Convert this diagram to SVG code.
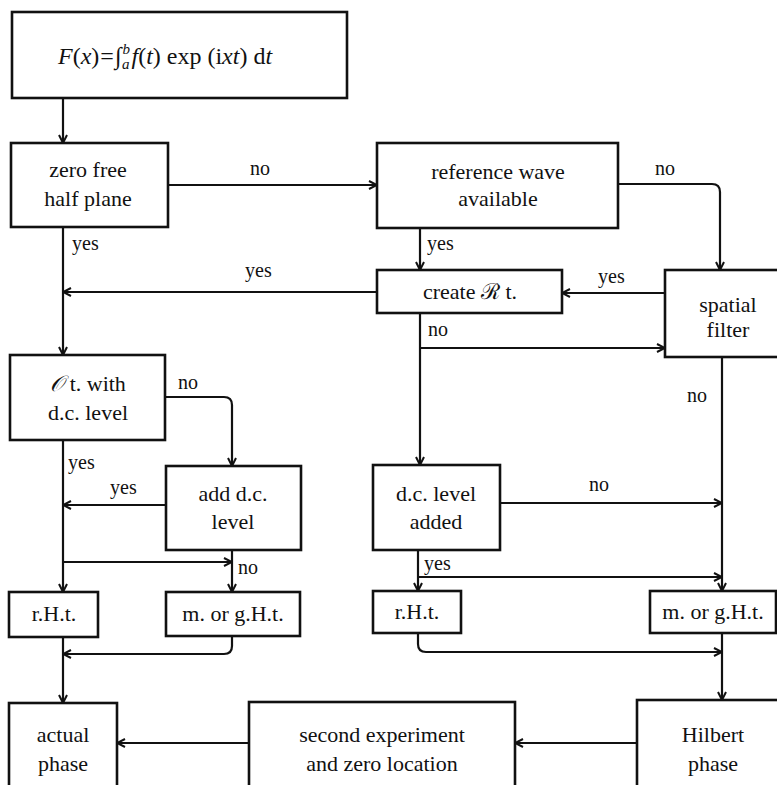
<svg xmlns="http://www.w3.org/2000/svg" width="777" height="785" viewBox="0 0 777 785" font-family="'Liberation Serif', 'Times New Roman', 'DejaVu Serif', serif">
<defs>
<marker id="arr" viewBox="0 0 10 10" refX="9" refY="5" markerWidth="10" markerHeight="10" markerUnits="userSpaceOnUse" orient="auto">
<path d="M1,1 L9,5 L1,9" fill="none" stroke="#111" stroke-width="2"/>
</marker>
<style>
.box{fill:#fff;stroke:#111;stroke-width:2.6}
.c{fill:none;stroke:#111;stroke-width:2.2}
.a{marker-end:url(#arr)}
.t{font-size:22px;text-anchor:middle;fill:#111}
.l{font-size:20px;fill:#111}
.i{font-style:italic}
</style>
</defs>
<rect width="777" height="785" fill="#fff"/>
<g id="connectors">
<path class="c a" d="M63,98 V143"/>
<path class="c a" d="M168,185 H377"/>
<path class="c a" d="M618,184 H712 Q720,184 720,192 V270"/>
<path class="c a" d="M420,228 V270"/>
<path class="c a" d="M665,293 H562"/>
<path class="c a" d="M377,292 H63"/>
<path class="c a" d="M63,227 V355"/>
<path class="c a" d="M420,313 V465"/>
<path class="c a" d="M420,348 H665"/>
<path class="c a" d="M722,357 V591"/>
<path class="c a" d="M165,397 H224 Q232,397 232,405 V466"/>
<path class="c a" d="M166,505 H63"/>
<path class="c a" d="M63,440 V592"/>
<path class="c a" d="M63,562 H232"/>
<path class="c a" d="M232,550 V592"/>
<path class="c a" d="M63,637 V703"/>
<path class="c a" d="M232,636 V646 Q232,654 224,654 H63"/>
<path class="c a" d="M249,743 H117"/>
<path class="c a" d="M637,743 H515"/>
<path class="c a" d="M500,503 H722"/>
<path class="c a" d="M418,550 V591"/>
<path class="c a" d="M418,577 H722"/>
<path class="c a" d="M418,633 V644 Q418,652 426,652 H722"/>
<path class="c a" d="M722,633 V700"/>
</g>
<g id="labels">
<text class="l" x="250" y="175">no</text>
<text class="l" x="655" y="175">no</text>
<text class="l" x="72" y="250">yes</text>
<text class="l" x="427" y="250">yes</text>
<text class="l" x="245" y="277">yes</text>
<text class="l" x="598" y="283">yes</text>
<text class="l" x="428" y="336">no</text>
<text class="l" x="687" y="402">no</text>
<text class="l" x="178" y="389">no</text>
<text class="l" x="68" y="469">yes</text>
<text class="l" x="110" y="494">yes</text>
<text class="l" x="589" y="491">no</text>
<text class="l" x="238" y="574">no</text>
<text class="l" x="424" y="570">yes</text>
</g>
<g id="n-eq">
<rect class="box" x="12" y="12" width="335" height="86"/>
<text x="58" y="64" font-size="24" fill="#111"><tspan class="i">F</tspan>(<tspan class="i">x</tspan>)<tspan dx="1">=</tspan><tspan dx="1">∫</tspan><tspan class="i" font-size="15" dx="1" dy="-10">b</tspan><tspan class="i" font-size="15" dx="-8" dy="15">a</tspan><tspan class="i" dx="2" dy="-5">f</tspan>(<tspan class="i">t</tspan>) exp (i<tspan class="i">xt</tspan>) d<tspan class="i">t</tspan></text>
</g>
<g id="n-zero">
<rect class="box" x="11" y="143" width="157" height="84"/>
<text class="t" x="88" y="177">zero free</text>
<text class="t" x="88" y="206">half plane</text>
</g>
<g id="n-ref">
<rect class="box" x="377" y="143" width="241" height="85"/>
<text class="t" x="498" y="179">reference wave</text>
<text class="t" x="498" y="206">available</text>
</g>
<g id="n-create">
<rect class="box" x="377" y="270" width="185" height="43"/>
<text class="t" x="470" y="299">create ℛ t.</text>
</g>
<g id="n-spatial">
<rect class="box" x="665" y="270" width="120" height="87"/>
<text class="t" x="728" y="312">spatial</text>
<text class="t" x="728" y="337">filter</text>
</g>
<g id="n-ot">
<rect class="box" x="10" y="355" width="155" height="85"/>
<text class="t" x="88" y="391"><tspan class="i">𝒪</tspan> t. with</text>
<text class="t" x="88" y="420">d.c. level</text>
</g>
<g id="n-add">
<rect class="box" x="166" y="466" width="135" height="84"/>
<text class="t" x="233" y="501">add d.c.</text>
<text class="t" x="233" y="529">level</text>
</g>
<g id="n-dcadded">
<rect class="box" x="373" y="465" width="127" height="85"/>
<text class="t" x="436" y="501">d.c. level</text>
<text class="t" x="436" y="529">added</text>
</g>
<g id="n-rht1">
<rect class="box" x="9" y="592" width="89" height="45"/>
<text class="t" x="54" y="621">r.H.t.</text>
</g>
<g id="n-mg1">
<rect class="box" x="166" y="592" width="134" height="44"/>
<text class="t" x="233" y="621">m. or g.H.t.</text>
</g>
<g id="n-rht2">
<rect class="box" x="373" y="591" width="88" height="42"/>
<text class="t" x="417" y="619">r.H.t.</text>
</g>
<g id="n-mg2">
<rect class="box" x="650" y="591" width="126" height="42"/>
<text class="t" x="713" y="619">m. or g.H.t.</text>
</g>
<g id="n-actual">
<rect class="box" x="9" y="703" width="108" height="100"/>
<text class="t" x="63" y="742">actual</text>
<text class="t" x="63" y="771">phase</text>
</g>
<g id="n-second">
<rect class="box" x="249" y="702" width="266" height="100"/>
<text class="t" x="382" y="742">second experiment</text>
<text class="t" x="382" y="771">and zero location</text>
</g>
<g id="n-hilbert">
<rect class="box" x="637" y="700" width="150" height="100"/>
<text class="t" x="713" y="742">Hilbert</text>
<text class="t" x="713" y="771">phase</text>
</g>
</svg>
